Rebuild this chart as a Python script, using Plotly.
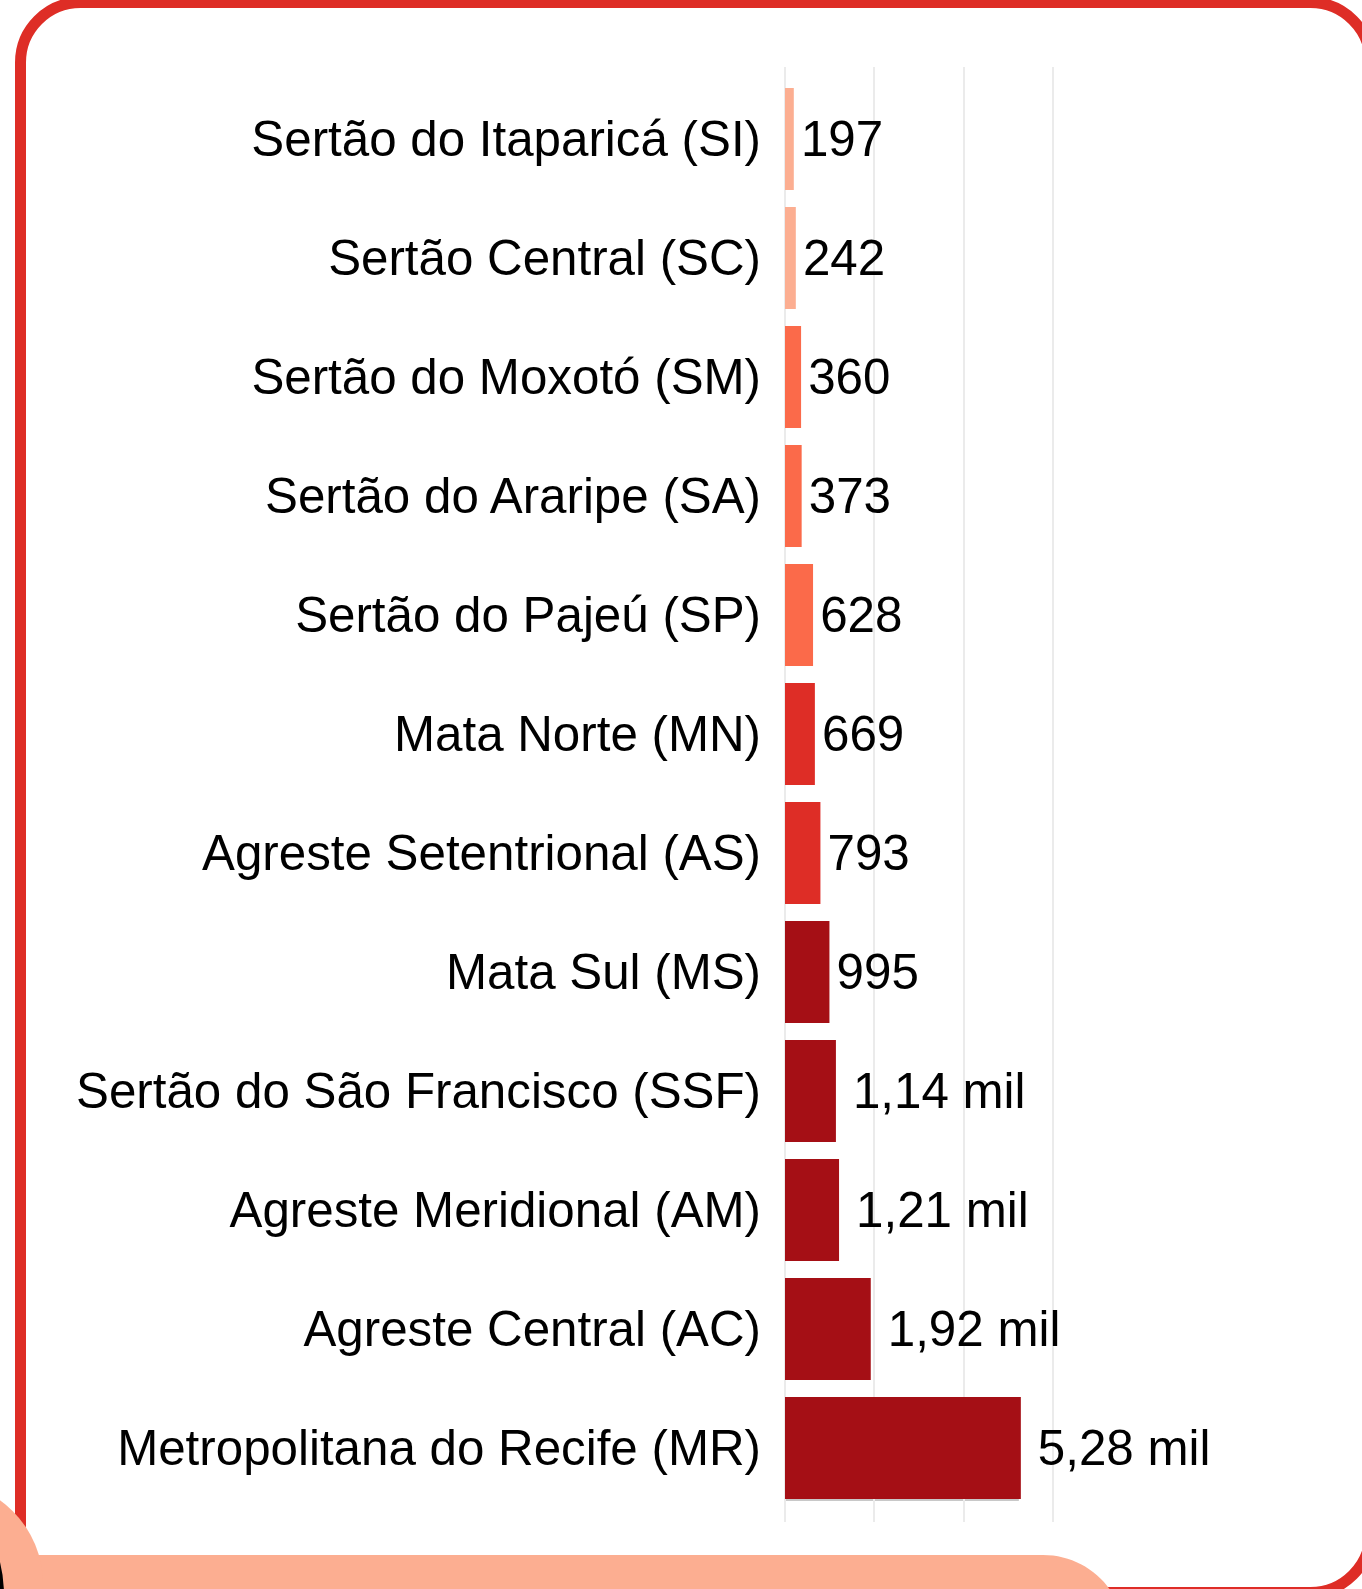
import plotly.graph_objects as go

# ---- data ----
regions = [
    "Sertão do Itaparicá (SI)",
    "Sertão Central (SC)",
    "Sertão do Moxotó (SM)",
    "Sertão do Araripe (SA)",
    "Sertão do Pajeú (SP)",
    "Mata Norte (MN)",
    "Agreste Setentrional (AS)",
    "Mata Sul (MS)",
    "Sertão do São Francisco (SSF)",
    "Agreste Meridional (AM)",
    "Agreste Central (AC)",
    "Metropolitana do Recife (MR)",
]
values = [197, 242, 360, 373, 628, 669, 793, 995, 1140, 1210, 1920, 5280]
bar_colors = ["#fcae91", "#fcae91", "#fb6a4a", "#fb6a4a", "#fb6a4a",
              "#de2d26", "#de2d26", "#a50f15", "#a50f15", "#a50f15",
              "#a50f15", "#a50f15"]
grid_ticks = [0, 2000, 4000, 6000]


def fmt(v):
    if v >= 1000:
        return "\u200a\u2009" + f"{v/1000:.2f}".replace(".", ",") + " mil"
    return "\u200a" + str(v)


labels = [fmt(v) for v in values]

W, H = 1362, 1589
L, R, T, B = 785, 242, 67, 67
PW, PH = W - L - R, H - T - B
XMAX = 7500
BARGAP = 0.143
YRANGE = [11.622, -0.605]


def px(x):
    return (x - L) / PW


def py(y):
    return (H - B - y) / PH


FONT = "Liberation Sans, Arial, sans-serif"
FS = 49.3

fig = go.Figure()
fig.add_trace(go.Bar(
    x=values, y=regions, orientation="h",
    marker=dict(color=bar_colors, line=dict(width=0)),
    text=labels, textposition="outside", cliponaxis=False,
    constraintext="none",
    textfont=dict(family=FONT, size=FS, color="#000000"),
    hoverinfo="skip",
))

# decorative frame shapes (pixel -> paper)
k = 0.5523


def rrect_path(x0, y0, x1, y1, r):
    c = r * k
    pts = [
        f"M {px(x0 + r)},{py(y0)}",
        f"L {px(x1 - r)},{py(y0)}",
        f"C {px(x1 - r + c)},{py(y0)} {px(x1)},{py(y0 + r - c)} {px(x1)},{py(y0 + r)}",
        f"L {px(x1)},{py(y1 - r)}",
        f"C {px(x1)},{py(y1 - r + c)} {px(x1 - r + c)},{py(y1)} {px(x1 - r)},{py(y1)}",
        f"L {px(x0 + r)},{py(y1)}",
        f"C {px(x0 + r - c)},{py(y1)} {px(x0)},{py(y1 - r + c)} {px(x0)},{py(y1 - r)}",
        f"L {px(x0)},{py(y0 + r)}",
        f"C {px(x0)},{py(y0 + r - c)} {px(x0 + r - c)},{py(y0)} {px(x0 + r)},{py(y0)}",
        "Z",
    ]
    return " ".join(pts)


# subtle selection shadow under the last (largest) bar, offset a few pixels
unit_x = XMAX / PW                     # data units per pixel (x)
unit_y = (YRANGE[0] - YRANGE[1]) / PH  # data units per pixel (y)
last = len(values) - 1
half = (1 - BARGAP) / 2

shapes = [
    dict(type="rect", xref="x", yref="y", layer="below",
         x0=-1 * unit_x, x1=values[last] - 2 * unit_x,
         y0=last - half + 2 * unit_y, y1=last + half + 2 * unit_y,
         line=dict(width=0), fillcolor="#c8c8c8"),
    dict(type="path", xref="paper", yref="paper",
         path=rrect_path(20.5, 2.5, 1370.5, 1592.5, 60),
         line=dict(color="#de2d26", width=11), fillcolor="rgba(0,0,0,0)",
         layer="above"),
    dict(type="path", xref="paper", yref="paper",
         path=rrect_path(-120, 1555, 1125, 1720, 82),
         line=dict(width=0), fillcolor="#fcae91", layer="above"),
    dict(type="circle", xref="paper", yref="paper",
         x0=px(-163), x1=px(43), y0=py(1481), y1=py(1687),
         line=dict(width=0), fillcolor="#fcae91", layer="above"),
    dict(type="circle", xref="paper", yref="paper",
         x0=px(-134 - 136), x1=px(-134 + 136), y0=py(1595 - 136), y1=py(1595 + 136),
         line=dict(width=4, color="#000000"), fillcolor="rgba(0,0,0,0)",
         layer="above"),
]

fig.update_layout(
    width=W, height=H,
    margin=dict(l=L, r=R, t=T, b=B, pad=0),
    paper_bgcolor="#ffffff", plot_bgcolor="#ffffff",
    showlegend=False,
    bargap=BARGAP,
    font=dict(family=FONT, size=FS, color="#000000"),
    xaxis=dict(range=[0, XMAX], tickvals=grid_ticks, showticklabels=False,
               showgrid=True, gridcolor="#ebebeb", gridwidth=1.5,
               zeroline=True, zerolinecolor="#ebebeb", zerolinewidth=1.5,
               showline=False, fixedrange=True),
    yaxis=dict(type="category", categoryorder="array", categoryarray=regions,
               range=YRANGE, showgrid=False, zeroline=False,
               showline=False, ticks="", ticklabelstandoff=23,
               tickfont=dict(family=FONT, size=FS, color="#000000"),
               fixedrange=True),
    shapes=shapes,
)

fig.write_html(
    "out.html",
    config={"displayModeBar": False},
    post_script="document.body.style.margin='0';document.body.style.overflow='hidden';",
)
